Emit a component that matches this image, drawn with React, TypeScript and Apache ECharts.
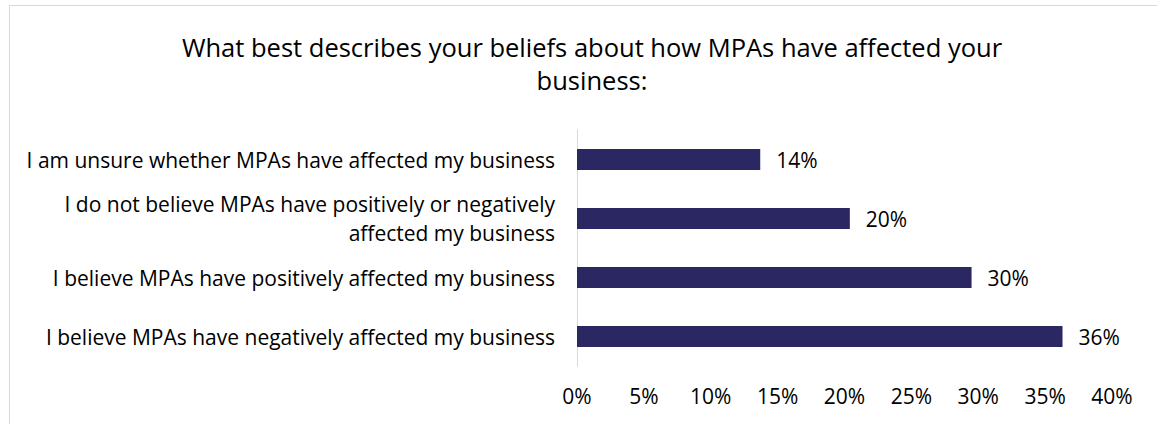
import React, { useEffect, useRef } from "react";
import * as echarts from "echarts";

const categories = [
  "I believe MPAs have negatively affected my business",
  "I believe MPAs have positively affected my business",
  "I do not believe MPAs have positively or negatively\naffected my business",
  "I am unsure whether MPAs have affected my business",
];
const values = [36.3, 29.5, 20.4, 13.7];
const titleText = "What best describes your beliefs about how MPAs have affected your\nbusiness:";

export default function App() {
  const ref = useRef<HTMLDivElement>(null);
  useEffect(() => {
    const chart = echarts.init(ref.current!, null, { renderer: "svg" });
    const font = "Open Sans";
    chart.setOption({
      animation: false,
      backgroundColor: "#fff",
      title: {
        text: titleText,
        left: 587,
        textAlign: "center",
        top: 25,
        textStyle: { fontFamily: font, fontSize: 25.5, fontWeight: "normal", color: "#000", lineHeight: 33 },
      },
      graphic: [
        {
          type: "rect",
          shape: { x: 9.5, y: 5.5, width: 1200, height: 500 },
          style: { fill: "none", stroke: "#d9d9d9", lineWidth: 1 },
        },
      ],
      grid: { left: 577, right: 45, top: 130, bottom: 58 },
      xAxis: {
        type: "value",
        min: 0,
        max: 40,
        interval: 5,
        splitLine: { show: false },
        axisLine: { show: false },
        axisTick: { show: false },
        axisLabel: {
          formatter: "{value}%",
          fontFamily: font,
          fontSize: 21,
          color: "#000",
          margin: 19,
        },
      },
      yAxis: {
        type: "category",
        data: categories,
        axisLine: { show: true, lineStyle: { color: "#d9d9d9", width: 1 } },
        axisTick: { show: false },
        axisLabel: {
          fontFamily: font,
          fontSize: 21,
          color: "#000",
          margin: 22,
          align: "right",
          lineHeight: 29,
        },
      },
      series: [
        {
          type: "bar",
          data: values,
          barWidth: "36%",
          itemStyle: { color: "#2b2762" },
          label: {
            show: true,
            position: "right",
            distance: 16,
            formatter: (p: any) => Math.round(p.value) + "%",
            fontFamily: font,
            fontSize: 21,
            color: "#000",
          },
        },
      ],
    });
    return () => chart.dispose();
  }, []);
  return (
    <div
      ref={ref}
      style={{ position: "absolute", left: 0, top: 0, width: 1157, height: 424 }}
    />
  );
}
